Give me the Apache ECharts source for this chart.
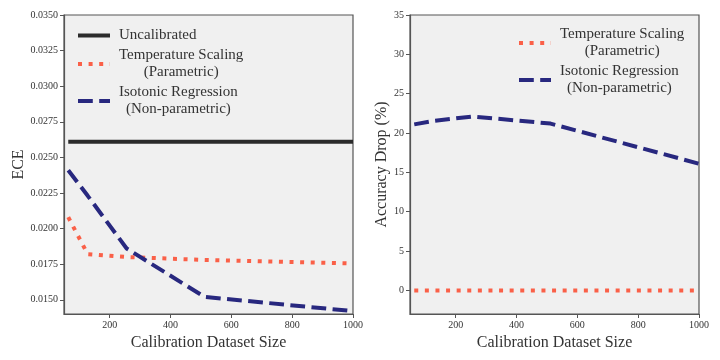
<!DOCTYPE html>
<html>
<head>
<meta charset="utf-8">
<script src="https://cdn.jsdelivr.net/npm/echarts@6/dist/echarts.min.js"></script>
<style>
html,body{margin:0;padding:0;background:#fff;}
#chart{width:720px;height:360px;}
</style>
</head>
<body>
<div id="chart"></div>
<script>
// ---- data ----
var sizes = [64, 128, 256, 512, 1000];
var eceUncal = [0.0261, 0.0261, 0.0261, 0.0261, 0.0261];
var eceTemp = [0.0208, 0.0182, 0.0180, 0.0178, 0.01755];
var eceIso = [0.0241, 0.0223, 0.0186, 0.0152, 0.0142];
var dropTemp = [0, 0, 0, 0, 0];
var dropIso = [21.1, 21.55, 22.1, 21.2, 16.1];
var sizeTicks = [200, 400, 600, 800, 1000];
var eceTicks = [0.015, 0.0175, 0.02, 0.0225, 0.025, 0.0275, 0.03, 0.0325, 0.035];
var dropTicks = [0, 5, 10, 15, 20, 25, 30, 35];

var legendLabels = {
  'Uncalibrated': ['Uncalibrated'],
  'Temperature Scaling': ['Temperature Scaling', '(Parametric)'],
  'Isotonic Regression': ['Isotonic Regression', '(Non-parametric)']
};

function pairs(xs, ys) { return xs.map(function (x, i) { return [x, ys[i]]; }); }

var FONT = '"Liberation Serif", "Times New Roman", "DejaVu Serif", serif';
var AXC = '#555555';
var TXT = '#333333';
var BLACK = '#2b2b2b';
var RED = '#fa6048';
var BLUE = '#28287f';

function xAxisDef(gi) {
  return {
    type: 'value', gridIndex: gi, min: 50, max: 1000,
    name: 'Calibration Dataset Size', nameLocation: 'middle', nameGap: 18,
    nameTextStyle: { fontFamily: FONT, fontSize: 16, color: TXT },
    axisLine: { show: true, onZero: false, lineStyle: { color: AXC, width: 1.2 } },
    axisTick: { show: true, length: 4, lineStyle: { color: AXC, width: 1 }, customValues: sizeTicks },
    axisLabel: { fontFamily: FONT, fontSize: 10, color: TXT, margin: 6, customValues: sizeTicks,
      formatter: function (v) { return String(v); } },
    splitLine: { show: false }
  };
}
function yAxisDef(gi, min, max, ticks, name, gap, fmt) {
  return {
    type: 'value', gridIndex: gi, min: min, max: max,
    name: name, nameLocation: 'middle', nameGap: gap,
    nameTextStyle: { fontFamily: FONT, fontSize: 16, color: TXT },
    axisLine: { show: true, onZero: false, lineStyle: { color: AXC, width: 1.2 } },
    axisTick: { show: true, length: 4, lineStyle: { color: AXC, width: 1 }, customValues: ticks },
    axisLabel: { fontFamily: FONT, fontSize: 10, color: TXT, margin: 6, customValues: ticks, formatter: fmt },
    splitLine: { show: false }
  };
}
function legendDef(left, top, names) {
  return {
    orient: 'vertical', left: left, top: top, padding: 0, itemGap: 5,
    itemWidth: 32, itemHeight: 12,
    data: names,
    lineStyle: { width: 4 },
    itemStyle: { color: 'rgba(0,0,0,0)', borderColor: 'rgba(0,0,0,0)', borderWidth: 0, opacity: 0 },
    textStyle: {
      fontFamily: FONT, fontSize: 15, color: TXT, padding: [0, 0, 0, 4],
      rich: {
        c: { align: 'center', fontFamily: FONT, fontSize: 15, lineHeight: 17, color: TXT },
        u: { align: 'left', fontFamily: FONT, fontSize: 15, lineHeight: 19, color: TXT }
      }
    },
    formatter: function (n) {
      var lines = legendLabels[n];
      var key = lines.length > 1 ? 'c' : 'u';
      return lines.map(function (s) { return '{' + key + '|' + s + '}'; }).join('\n');
    }
  };
}
function lineSeries(name, xi, data, color, type) {
  return {
    type: 'line', name: name, xAxisIndex: xi, yAxisIndex: xi,
    data: data, symbol: 'none', showSymbol: false, animation: false,
    lineStyle: { color: color, width: 4, type: type, cap: 'butt' },
    itemStyle: { color: color }
  };
}

var chart = echarts.init(document.getElementById('chart'), null, { renderer: 'canvas' });
chart.setOption({
  backgroundColor: '#ffffff',
  animation: false,
  grid: [
    { left: 64, top: 15, width: 289, height: 299, show: true, backgroundColor: '#f0f0f0', borderColor: AXC, borderWidth: 1.2 },
    { left: 410, top: 15, width: 289, height: 299, show: true, backgroundColor: '#f0f0f0', borderColor: AXC, borderWidth: 1.2 }
  ],
  xAxis: [xAxisDef(0), xAxisDef(1)],
  yAxis: [
    yAxisDef(0, 0.014, 0.035, eceTicks, 'ECE', 36, function (v) { return v.toFixed(4); }),
    yAxisDef(1, -3, 35, dropTicks, 'Accuracy Drop (%)', 20, function (v) { return String(v); })
  ],
  legend: [
    legendDef(76, 28, ['Uncalibrated', 'Temperature Scaling', 'Isotonic Regression']),
    legendDef(517, 27, ['Temperature Scaling', 'Isotonic Regression'])
  ],
  series: [
    lineSeries('Uncalibrated', 0, pairs(sizes, eceUncal), BLACK, 'solid'),
    lineSeries('Temperature Scaling', 0, pairs(sizes, eceTemp), RED, [4, 6.6]),
    lineSeries('Isotonic Regression', 0, pairs(sizes, eceIso), BLUE, [14.8, 6.4]),
    lineSeries('Temperature Scaling', 1, pairs(sizes, dropTemp), RED, [4, 6.6]),
    lineSeries('Isotonic Regression', 1, pairs(sizes, dropIso), BLUE, [14.8, 6.4])
  ]
});
</script>
</body>
</html>
